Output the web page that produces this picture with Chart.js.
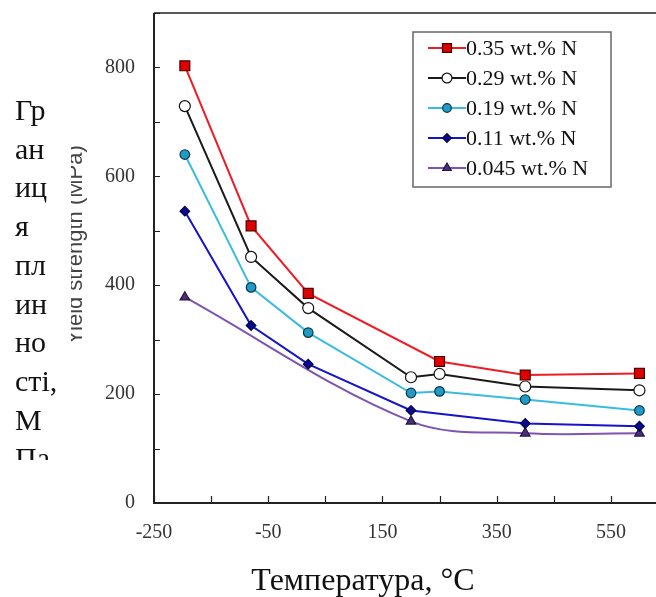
<!DOCTYPE html>
<html>
<head>
<meta charset="utf-8">
<script src="https://cdn.jsdelivr.net/npm/chart.js@4/dist/chart.umd.min.js"></script>
<style>
  html, body { margin: 0; padding: 0; background: #fff; overflow: hidden; }
  #wrap { position: absolute; left: 0; top: 0; width: 680px; height: 597px; }
</style>
</head>
<body>
<div id="wrap"><canvas id="chart" width="680" height="597"></canvas></div>
<script>
// Дані (температура, °C -> границя плинності, МПа)
const legendLabels = ["0.35 wt.% N", "0.29 wt.% N", "0.19 wt.% N", "0.11 wt.% N", "0.045 wt.% N"];

const temp035 = [-196, -80, 20, 250, 400, 600];
const ys035 = [803, 509, 385, 260, 235, 238];

const temp029 = [-196, -80, 20, 200, 250, 400, 600];
const ys029 = [729, 452, 358, 231, 237, 214, 207];

const temp019 = [-196, -80, 20, 200, 250, 400, 600];
const ys019 = [640, 396, 313, 202, 205, 190, 170];

const temp011 = [-196, -80, 20, 200, 400, 600];
const ys011 = [536, 326, 255, 170, 146, 141];

const temp0045 = [-196, 200, 400, 600];
const ys0045 = [378, 150, 128, 128];

const xTicks = [-250, -150, -50, 50, 150, 250, 350, 450, 550, 650];
const xTickLabels = [-250, -50, 150, 350, 550];
const yTickLabels = [0, 200, 400, 600, 800];

const xTitle = "Температура, °C";
const yTitleLines = ["Гр", "ан", "иц", "я", "пл", "ин", "но", "сті,", "М", "Па"];
const ghostTitle = "Yield strength (MPa)";

function points(xs, ys) {
  return xs.map((x, i) => ({ x: x, y: ys[i] }));
}

const datasets = [
  {
    label: legendLabels[0], data: points(temp035, ys035),
    borderColor: "#ee1c25", pointStyle: "rect", pointRadius: 7,
    pointBackgroundColor: "#e00000", pointBorderColor: "#4a0000", tension: 0
  },
  {
    label: legendLabels[1], data: points(temp029, ys029),
    borderColor: "#1a1a1a", pointStyle: "circle", pointRadius: 5.5,
    pointBackgroundColor: "#ffffff", pointBorderColor: "#111111", tension: 0
  },
  {
    label: legendLabels[2], data: points(temp019, ys019),
    borderColor: "#3cbbe0", pointStyle: "circle", pointRadius: 4.8,
    pointBackgroundColor: "#1e9cc4", pointBorderColor: "#0b3550", tension: 0
  },
  {
    label: legendLabels[3], data: points(temp011, ys011),
    borderColor: "#1414c8", pointStyle: "rectRot", pointRadius: 4.8,
    pointBackgroundColor: "#0a0a8a", pointBorderColor: "#000050", tension: 0
  },
  {
    label: legendLabels[4], data: points(temp0045, ys0045),
    borderColor: "#7d55b0", pointStyle: "triangle", pointRadius: 5.5,
    pointBackgroundColor: "#4b2f7a", pointBorderColor: "#24143f", tension: 0.35
  }
];
datasets.forEach((d) => {
  d.borderWidth = 2;
  d.pointBorderWidth = 1.2;
  d.fill = false;
});

// Рамка, засічки всередину, легенда і підписи осей
const decorPlugin = {
  id: "decor",
  beforeDatasetsDraw(chart) {
    const { ctx, chartArea: a, scales } = chart;
    ctx.save();
    ctx.strokeStyle = "#222";
    ctx.lineWidth = 1.5;
    ctx.beginPath();
    ctx.moveTo(a.left, a.top);
    ctx.lineTo(a.right + 20, a.top);
    ctx.stroke();
    ctx.lineWidth = 2;
    ctx.beginPath();
    ctx.moveTo(a.left, a.top);
    ctx.lineTo(a.left, a.bottom);
    ctx.lineTo(a.right + 20, a.bottom);
    ctx.stroke();
    ctx.lineWidth = 1.2;
    ctx.beginPath();
    scales.y.ticks.forEach((t) => {
      const y = Math.round(scales.y.getPixelForValue(t.value)) + 0.5;
      ctx.moveTo(a.left, y);
      ctx.lineTo(a.left + 6, y);
    });
    scales.x.ticks.forEach((t) => {
      const x = Math.round(scales.x.getPixelForValue(t.value)) + 0.5;
      ctx.moveTo(x, a.bottom);
      ctx.lineTo(x, a.bottom - 7);
    });
    ctx.stroke();
    ctx.restore();
  },
  afterDraw(chart) {
    const { ctx } = chart;
    ctx.save();

    // легенда
    const box = { left: 413, top: 32, right: 611, bottom: 187 };
    ctx.fillStyle = "#fff";
    ctx.fillRect(box.left, box.top, box.right - box.left, box.bottom - box.top);
    ctx.strokeStyle = "#666";
    ctx.lineWidth = 1.5;
    ctx.strokeRect(box.left, box.top, box.right - box.left, box.bottom - box.top);
    ctx.font = '22px "Liberation Serif"';
    ctx.textBaseline = "middle";
    ctx.textAlign = "left";
    chart.data.datasets.forEach((ds, i) => {
      const y = 48 + i * 30;
      ctx.strokeStyle = ds.borderColor;
      ctx.lineWidth = 2;
      ctx.beginPath();
      ctx.moveTo(428, y);
      ctx.lineTo(466, y);
      ctx.stroke();
      ctx.fillStyle = ds.pointBackgroundColor;
      ctx.strokeStyle = ds.pointBorderColor;
      ctx.lineWidth = ds.pointBorderWidth;
      Chart.helpers.drawPoint(ctx, {
        pointStyle: ds.pointStyle, radius: ds.pointRadius * 0.9, rotation: 0, borderWidth: ds.pointBorderWidth
      }, 447, y);
      ctx.fillStyle = "#111";
      ctx.fillText(ds.label, 466, y + 1);
    });

    // підпис осі X
    ctx.fillStyle = "#111";
    ctx.font = '32px "Liberation Serif"';
    ctx.textAlign = "center";
    ctx.textBaseline = "alphabetic";
    ctx.fillText(xTitle, 363, 590);

    // залишок старого підпису під новим
    ctx.save();
    ctx.beginPath();
    ctx.rect(71, 0, 20, 597);
    ctx.clip();
    ctx.translate(82, 245);
    ctx.rotate(-Math.PI / 2);
    ctx.fillStyle = "#444";
    ctx.font = '22px "Liberation Sans"';
    ctx.textAlign = "center";
    ctx.fillText(ghostTitle, 0, 0);
    ctx.restore();

    // підпис осі Y, перенесений по складах і обрізаний знизу
    ctx.save();
    ctx.beginPath();
    ctx.rect(0, 0, 70, 460);
    ctx.clip();
    ctx.fillStyle = "#111";
    ctx.font = '30px "Liberation Serif"';
    ctx.textAlign = "left";
    yTitleLines.forEach((line, i) => {
      ctx.fillText(line, 15, 120 + i * 38.7);
    });
    ctx.restore();

    ctx.restore();
  }
};

// прибираємо запаси під крайні підписи, щоб область графіка збігалась з оригіналом
function noEdgePadding(scale) {
  scale.paddingTop = 0;
  scale.paddingBottom = 0;
  scale.paddingLeft = 0;
  scale.paddingRight = 0;
}

new Chart(document.getElementById("chart"), {
  type: "line",
  data: { datasets: datasets },
  options: {
    responsive: false,
    animation: false,
    devicePixelRatio: 1,
    layout: { padding: { left: 0, right: 12, top: 13, bottom: 0 } },
    plugins: {
      legend: { display: false },
      tooltip: { enabled: false }
    },
    scales: {
      x: {
        type: "linear",
        min: -250,
        max: 650,
        grid: { display: false, drawTicks: false },
        border: { display: false },
        afterBuildTicks: (scale) => {
          scale.ticks = xTicks.map((v) => ({ value: v }));
        },
        afterFit: (scale) => { scale.height = 94; noEdgePadding(scale); },
        ticks: {
          autoSkip: false,
          maxRotation: 0,
          padding: 18,
          color: "#333",
          font: { family: "Liberation Serif", size: 20 },
          callback: (v) => (xTickLabels.includes(v) ? String(v) : "")
        }
      },
      y: {
        type: "linear",
        min: 0,
        max: 900,
        grid: { display: false, drawTicks: false },
        border: { display: false },
        afterFit: (scale) => { scale.width = 154; noEdgePadding(scale); },
        ticks: {
          stepSize: 100,
          padding: 19,
          color: "#333",
          font: { family: "Liberation Serif", size: 20 },
          callback: (v) => (yTickLabels.includes(v) ? String(v) : "")
        }
      }
    }
  },
  plugins: [decorPlugin]
});
</script>
</body>
</html>
